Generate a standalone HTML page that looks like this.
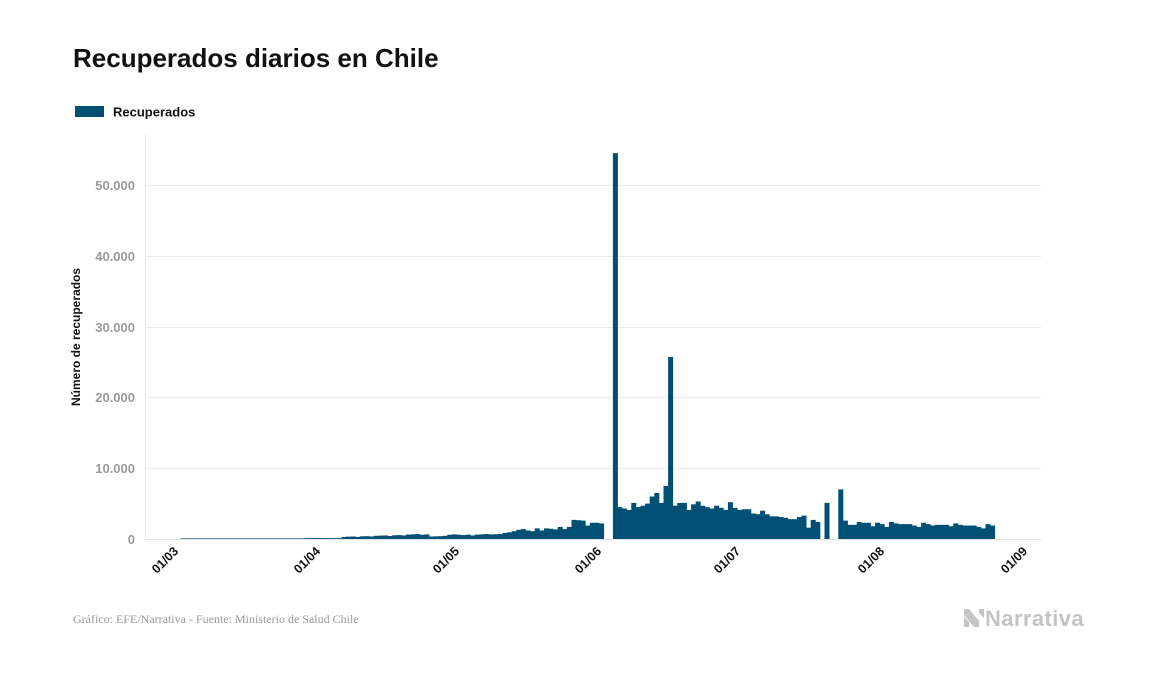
<!DOCTYPE html>
<html><head><meta charset="utf-8"><style>
html,body{margin:0;padding:0;background:#fff;width:1157px;height:674px;overflow:hidden;font-family:"Liberation Sans",sans-serif}
</style></head><body>
<svg id="s" width="1157" height="674" xmlns="http://www.w3.org/2000/svg">
<text x="73" y="67" font-size="26" font-weight="bold" fill="#111" font-family="Liberation Sans, sans-serif">Recuperados diarios en Chile</text>
<rect x="75" y="106" width="29" height="11" fill="#005075"/>
<text x="113" y="116.5" font-size="13" font-weight="bold" fill="#111">Recuperados</text>
<g stroke="#ebebeb" stroke-width="1">
<line x1="145" x2="1041" y1="185.5" y2="185.5"/>
<line x1="145" x2="1041" y1="256.5" y2="256.5"/>
<line x1="145" x2="1041" y1="327.5" y2="327.5"/>
<line x1="145" x2="1041" y1="397.5" y2="397.5"/>
<line x1="145" x2="1041" y1="468.5" y2="468.5"/>
<line x1="145.5" x2="145.5" y1="134" y2="539"/>
</g>
<g font-size="13" font-weight="bold" fill="#9a9a9a" text-anchor="end">
<text x="135" y="190">50.000</text>
<text x="135" y="261">40.000</text>
<text x="135" y="332">30.000</text>
<text x="135" y="402">20.000</text>
<text x="135" y="473">10.000</text>
<text x="135" y="544">0</text>
</g>
<text transform="translate(80,337) rotate(-90)" font-size="12" font-weight="bold" fill="#111" text-anchor="middle">Número de recuperados</text>
<g id="bars" fill="#005075"></g>
<line x1="145" x2="1041" y1="539.5" y2="539.5" stroke="#e2e2e2"/>
<g font-size="12.5" font-weight="bold" fill="#111" text-anchor="end" id="xl"></g>
<text x="73" y="623" font-size="12" fill="#999" font-family="Liberation Serif, serif">Gráfico: EFE/Narrativa - Fuente: Ministerio de Salud Chile</text>
<g fill="#c4c4c4">
<polygon points="964,609 969,609 979,621 979,627 974,627 964,615"/>
<polygon points="964,617 969,622 969,627 964,627"/>
<polygon points="979,609 984,609 984,618 979,613"/>
</g>
<text x="985" y="626" font-size="22" font-weight="bold" fill="#c4c4c4" letter-spacing="0.4">Narrativa</text>
</svg>
<script>
var pre=[];
for(var i=0;i<27;i++)pre.push(30);
for(var i=27;i<35;i++)pre.push(120);
pre=pre.concat([300,330,350,300,380,400,350,450,480,500,420,520,550,500,620,650,700,600,650,350,380,400,450,600,650,600,550,620,500,620,650,700,650,680,700,850,950,1100,1300,1400,1200,1100,1500,1200,1500,1450,1350,1700,1400,1700,2700,2650,2600,1900,2300,2300,2200,null,null]);
var post=[54500,4500,4300,4100,5100,4500,4700,5000,6000,6500,5100,7500,25700,4700,5100,5100,4100,4900,5300,4700,4500,4300,4700,4400,4100,5200,4400,4100,4200,4200,3600,3500,4000,3500,3200,3200,3100,3000,2800,2800,3100,3300,1600,2700,2400,null,5100,null,null,7000,2600,2000,2000,2400,2300,2300,1800,2300,2100,1700,2400,2200,2100,2100,2100,1900,1700,2300,2100,1900,2000,2000,2000,1800,2200,2000,1900,1900,1900,1700,1500,2100,1900];
var d=pre.concat(post);
var g=document.getElementById('bars'),h='';
for(var i=0;i<d.length;i++){if(d[i]==null)continue;var x=180+4.6*i+0.5;var hh=d[i]*0.00708;if(hh<0.6)hh=0.6;
h+='<rect x="'+x.toFixed(2)+'" y="'+(539-hh).toFixed(2)+'" width="5" height="'+hh.toFixed(2)+'"/>';}
g.innerHTML=h;
var labs=[['01/03',180],['01/04',322],['01/05',461],['01/06',603],['01/07',742],['01/08',886],['01/09',1029]],t='';
labs.forEach(function(l){t+='<text transform="translate('+(l[1]-1)+',552) rotate(-45)">'+l[0]+'</text>';});
document.getElementById('xl').innerHTML=t;
</script>
</body></html>
